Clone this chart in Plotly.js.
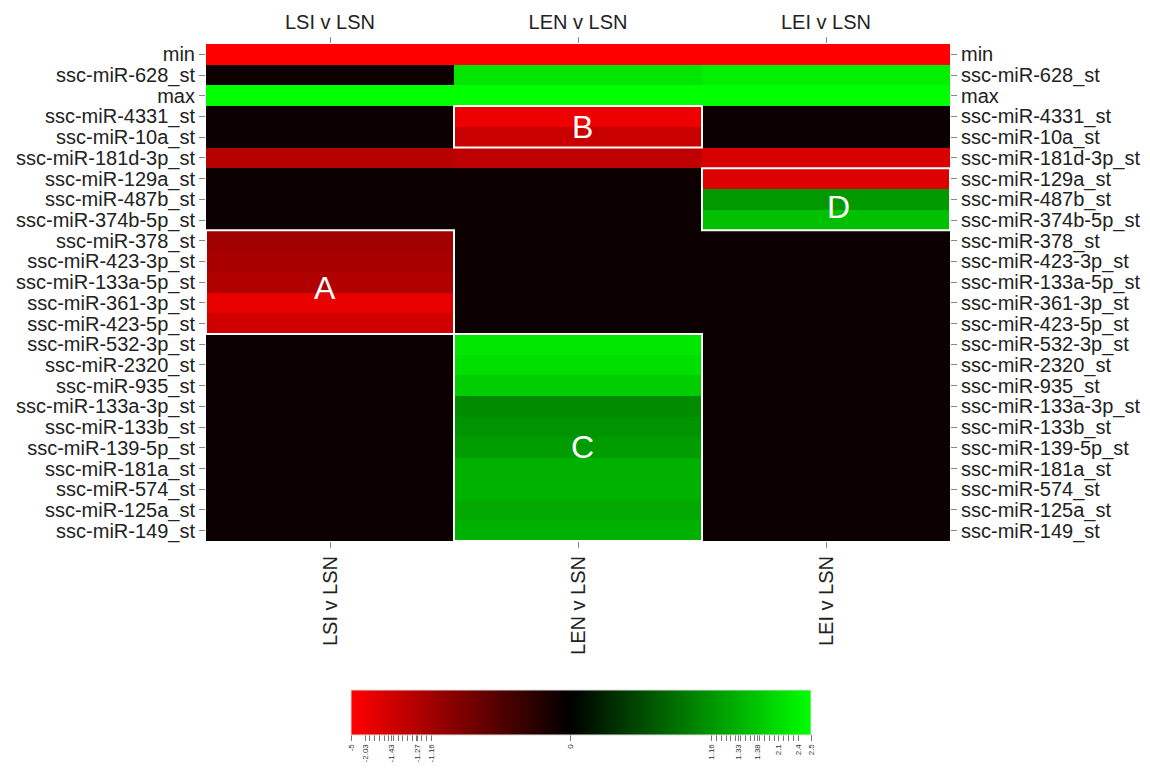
<!DOCTYPE html>
<html>
<head>
<meta charset="utf-8">
<script src="https://cdn.plot.ly/plotly-3.0.1.min.js"></script>
<style>html,body{margin:0;padding:0;background:#fff;}#chart{width:1150px;height:772px;}</style>
</head>
<body>
<div id="chart"></div>
<script>
// ---- data ----
const rowLabels = ['min','ssc-miR-628_st','max','ssc-miR-4331_st','ssc-miR-10a_st','ssc-miR-181d-3p_st',
  'ssc-miR-129a_st','ssc-miR-487b_st','ssc-miR-374b-5p_st','ssc-miR-378_st','ssc-miR-423-3p_st',
  'ssc-miR-133a-5p_st','ssc-miR-361-3p_st','ssc-miR-423-5p_st','ssc-miR-532-3p_st','ssc-miR-2320_st',
  'ssc-miR-935_st','ssc-miR-133a-3p_st','ssc-miR-133b_st','ssc-miR-139-5p_st','ssc-miR-181a_st',
  'ssc-miR-574_st','ssc-miR-125a_st','ssc-miR-149_st'];
const colLabels = ['LSI v LSN','LEN v LSN','LEI v LSN'];
const lsiVals = [-5, null, 2.5, null, null, -1.30, null, null, null, -1.15, -1.20, -1.26, -1.90, -1.43,
  null, null, null, null, null, null, null, null, null, null];
const lenVals = [-5, 2.24, 2.5, -2.03, -1.39, -1.34, null, null, null, null, null, null, null, null,
  2.24, 2.15, 1.58, 1.08, 1.15, 1.20, 1.32, 1.33, 1.27, 1.33];
const leiVals = [-5, 2.38, 2.5, null, null, -1.58, -1.68, 1.18, 1.365, null, null, null, null, null,
  null, null, null, null, null, null, null, null, null, null];
// colour key breaks (labelled values) and their position along the key
const keyValues = [-5, -2.03, -1.43, -1.27, -1.16, 0, 1.16, 1.33, 1.38, 2.1, 2.4, 2.5];
const keyLabels = ['-5','-2.03','-1.43','-1.27','-1.16','0','1.16','1.33','1.38','2.1','2.4','2.5'];
const keyPos = [0, 0.031, 0.087, 0.145, 0.174, 0.4775, 0.784, 0.843, 0.883, 0.929, 0.972, 1];
// highlighted blocks: [label, col0, col1, row0, row1, label x, label y]
const blocks = [['A',0,0,9,13,-0.02,11.29],['B',1,1,3,4,1.02,3.5],['C',1,1,14,23,1.02,18.96],['D',2,2,6,8,2.05,7.39]];

// ---- scale ----
function toPos(v){
  if (v === null) return null;
  for (let i = 0; i < keyValues.length - 1; i++) {
    if (v <= keyValues[i+1]) {
      const t = (v - keyValues[i]) / (keyValues[i+1] - keyValues[i]);
      return keyPos[i] + Math.max(0, t) * (keyPos[i+1] - keyPos[i]);
    }
  }
  return 1;
}
const z = rowLabels.map((r, i) => [toPos(lsiVals[i]), toPos(lenVals[i]), toPos(leiVals[i])]);
const rowIdx = rowLabels.map((r, i) => i);
const colIdx = colLabels.map((c, i) => i);

// colour-key tick marks
const tickvals = [], ticktext = [];
keyPos.forEach((p, i) => { tickvals.push(p); ticktext.push(keyLabels[i]); });
for (let k = 1; k < 14; k++) { tickvals.push(0.031 + k * (0.174 - 0.031) / 14); ticktext.push(''); }
for (let k = 1; k < 18; k++) { tickvals.push(0.784 + k * (0.972 - 0.784) / 18); ticktext.push(''); }

const font = 'Liberation Sans, Arial, sans-serif';
const heat = {
  type: 'heatmap', x: colIdx, y: rowIdx, z: z, zmin: 0, zmax: 1,
  colorscale: [[0, '#ff0000'], [0.4775, '#000000'], [1, '#00ff00']],
  hoverinfo: 'skip', xgap: 0, ygap: 0,
  colorbar: {
    orientation: 'h', xref: 'paper', yref: 'paper',
    x: (581 - 206) / 744, xanchor: 'center', y: (541 - 690) / 497, yanchor: 'top',
    len: 460 / 744, lenmode: 'fraction', thickness: 45, thicknessmode: 'pixels', xpad: 0, ypad: 0,
    outlinewidth: 1, outlinecolor: '#dddddd', borderwidth: 0,
    tickmode: 'array', tickvals: tickvals, ticktext: ticktext,
    ticks: 'outside', ticklen: 6, tickcolor: '#777', tickwidth: 1,
    tickangle: -90, tickfont: {size: 8, color: '#333', family: font}
  }
};
const ghost = {type: 'scatter', mode: 'markers', x: [0], y: [0], xaxis: 'x2', yaxis: 'y2',
  marker: {opacity: 0}, hoverinfo: 'skip', showlegend: false};

const shapes = blocks.map(b => ({type: 'rect', xref: 'x', yref: 'y',
  x0: b[1] - 0.5, x1: b[2] + 0.5, y0: b[3] - 0.5, y1: b[4] + 0.5,
  line: {color: '#ffffff', width: 2}}));
const annotations = blocks.map(b => ({xref: 'x', yref: 'y', x: b[5], y: b[6],
  text: b[0], showarrow: false, font: {size: 32, color: '#ffffff', family: font}}));

const axisCommon = {showgrid: false, zeroline: false, showline: false, ticks: 'outside', ticklen: 6,
  tickcolor: '#888', tickfont: {size: 20, color: '#222', family: font}, fixedrange: true};
const layout = {
  width: 1150, height: 772, margin: {l: 206, r: 200, t: 44, b: 231, autoexpand: false},
  paper_bgcolor: '#ffffff', plot_bgcolor: '#0c0000', showlegend: false,
  xaxis: Object.assign({}, axisCommon, {side: 'top', range: [-0.5, 2.5], tickmode: 'array',
    tickvals: colIdx, ticktext: colLabels}),
  xaxis2: Object.assign({}, axisCommon, {side: 'bottom', overlaying: 'x', anchor: 'y', range: [-0.5, 2.5],
    tickmode: 'array', tickvals: colIdx, ticktext: colLabels, tickangle: -90}),
  yaxis: Object.assign({}, axisCommon, {range: [23.5, -0.5], tickmode: 'array', tickvals: rowIdx,
    ticktext: rowLabels}),
  yaxis2: Object.assign({}, axisCommon, {side: 'right', overlaying: 'y', anchor: 'x', range: [23.5, -0.5],
    tickmode: 'array', tickvals: rowIdx, ticktext: rowLabels}),
  shapes: shapes, annotations: annotations
};
Plotly.newPlot('chart', [heat, ghost], layout, {displayModeBar: false, staticPlot: true});
</script>
</body>
</html>
